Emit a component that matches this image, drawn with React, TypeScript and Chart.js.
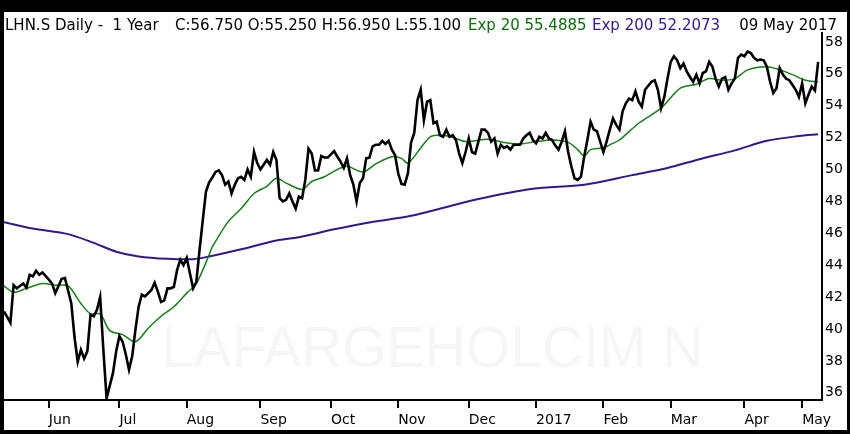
import React, { useEffect, useRef } from "react";
import { Chart, registerables } from "chart.js";

Chart.register(...registerables);

// Trading-day index (0 = 10 May 2016 ... 254 = 09 May 2017) and daily close
const closeDays = [
  0, 2, 3, 4, 6, 7, 8, 9, 10, 11, 12, 14, 15, 16, 17, 18, 19, 21, 22, 23, 24, 25, 26, 27, 28, 29, 30, 31, 32, 34,
  35, 36, 37, 38, 39, 40, 41, 42, 43, 44, 46, 47, 48, 49, 50, 51, 52, 53, 54, 55, 56, 57, 58, 59, 60, 61, 62, 63, 64, 65,
  66, 67, 68, 69, 70, 71, 72, 73, 74, 75, 76, 77, 78, 79, 80, 81, 82, 83, 84, 85, 86, 87, 88, 89, 90, 91, 92, 93, 94, 95,
  96, 97, 98, 99, 100, 101, 103, 104, 105, 106, 107, 108, 109, 110, 111, 112, 113, 114, 115, 116, 117, 118, 119, 120, 121, 122, 123, 124, 125, 126,
  127, 128, 129, 130, 131, 132, 133, 134, 135, 136, 137, 138, 139, 140, 141, 142, 143, 144, 145, 146, 147, 148, 149, 150, 151, 152, 153, 154, 155, 156,
  157, 158, 159, 161, 162, 163, 164, 165, 166, 167, 168, 169, 170, 171, 172, 173, 174, 175, 176, 177, 178, 179, 180, 181, 182, 183, 184, 185, 186, 187,
  188, 189, 190, 191, 192, 193, 194, 195, 196, 197, 198, 199, 200, 202, 203, 204, 205, 206, 207, 208, 209, 210, 211, 212, 213, 214, 215, 216, 217, 218,
  219, 220, 221, 222, 223, 224, 225, 226, 227, 228, 229, 230, 231, 232, 233, 234, 235, 236, 237, 238, 239, 240, 241, 242, 243, 244, 245, 246, 247, 248,
  249, 250, 251, 252, 253, 254,
];
const closeValues = [
  41.1, 40.4, 42.75, 42.55, 42.85, 42.6, 43.4, 43.3, 43.65, 43.4, 43.55, 43.1, 42.85, 42.25, 42.7, 43.15, 43.2, 41.6, 39.5, 37.95, 38.7, 38.15, 38.6, 40.9, 40.8, 41.2, 42.0, 38.7, 35.65, 37.25,
  38.6, 39.55, 39.2, 38.4, 37.45, 38.3, 39.95, 41.4, 42.15, 42.05, 42.45, 42.9, 42.35, 41.7, 41.8, 42.55, 42.55, 42.65, 43.7, 44.35, 44.0, 44.45, 43.5, 42.55, 42.95, 44.95, 46.8, 48.6, 49.2, 49.5,
  49.85, 49.95, 49.65, 49.05, 49.25, 48.5, 49.05, 49.45, 49.55, 49.35, 50.0, 49.55, 51.1, 50.4, 50.0, 50.3, 50.6, 50.3, 51.1, 50.6, 48.2, 48.0, 48.1, 48.5, 48.0, 47.55, 48.3, 48.2, 49.35, 51.3,
  51.0, 49.95, 49.95, 50.85, 50.75, 50.75, 51.15, 50.8, 50.5, 50.1, 50.7, 49.65, 49.05, 48.0, 49.15, 49.45, 50.7, 50.75, 51.45, 51.55, 51.55, 51.8, 51.6, 51.8, 51.25, 50.9, 49.75, 49.1, 49.05, 49.75,
  51.7, 52.3, 54.35, 55.0, 53.1, 54.25, 54.35, 52.9, 53.0, 52.15, 52.05, 52.5, 52.05, 52.15, 51.85, 51.0, 50.4, 51.1, 51.95, 51.1, 51.0, 51.75, 52.5, 52.5, 52.3, 51.75, 51.95, 51.0, 51.55, 51.35,
  51.45, 51.25, 51.55, 51.55, 51.95, 52.15, 52.3, 51.85, 51.65, 52.05, 51.95, 52.3, 51.95, 51.85, 51.5, 51.25, 51.75, 52.4, 51.1, 50.2, 49.45, 49.35, 49.55, 50.8, 51.85, 53.0, 52.5, 52.4, 51.75, 51.1,
  51.75, 52.5, 53.2, 52.8, 52.5, 53.65, 54.15, 54.45, 54.35, 54.9, 54.25, 53.95, 55.0, 55.5, 55.6, 55.0, 53.85, 54.55, 55.7, 56.75, 57.1, 56.85, 56.35, 56.65, 56.15, 55.8, 55.5, 55.95, 55.4, 56.05,
  56.15, 56.75, 56.45, 55.7, 55.2, 55.7, 55.8, 55.0, 55.4, 55.7, 57.0, 57.2, 57.1, 57.4, 57.3, 57.0, 56.85, 56.9, 56.85, 56.45, 55.5, 54.8, 55.1, 56.35, 55.95, 55.7, 55.6, 55.3, 55.0, 54.55,
  55.4, 54.15, 54.7, 55.2, 54.95, 56.75,
];

// Exponential moving average, 20 days
const ema20Days = [
  0, 3, 7, 12, 16, 20, 24, 27, 30, 33, 37, 41, 45, 49, 53, 57, 60, 64, 65, 70, 74, 78, 82, 85, 88, 93, 96, 100, 104, 107,
  112, 116, 121, 124, 126, 130, 133, 137, 141, 144, 151, 156, 161, 166, 171, 176, 179, 181, 183, 187, 189, 192, 198, 205, 211, 216, 220, 224, 228, 232,
  238, 242, 246, 250, 254,
];
const ema20Values = [
  42.7, 42.3, 42.55, 42.85, 42.75, 42.7, 41.6, 40.95, 40.95, 39.9, 39.65, 39.2, 40.05, 40.8, 41.4, 42.25, 42.85, 44.65, 45.15, 46.75, 47.55, 48.5, 48.95, 49.45, 49.15, 48.75, 49.25, 49.55, 50.0, 50.2,
  49.85, 50.35, 50.8, 50.7, 50.4, 51.35, 52.05, 52.15, 51.95, 51.75, 51.9, 51.7, 51.6, 51.75, 51.85, 51.7, 51.25, 50.85, 51.25, 51.35, 51.55, 51.85, 52.9, 53.85, 55.1, 55.35, 55.7, 55.6, 55.7, 56.25,
  56.45, 56.25, 55.95, 55.6, 55.49,
];

// Exponential moving average, 200 days
const ema200Days = [0, 9, 20, 28, 35, 42, 51, 59, 64, 74, 85, 92, 103, 113, 127, 148, 165, 181, 196, 207, 217, 228, 238, 248, 254];
const ema200Values = [
  46.7, 46.3, 45.95, 45.4, 44.85, 44.55, 44.4, 44.38, 44.55, 45.0, 45.55, 45.75, 46.25, 46.65, 47.1, 48.15, 48.8, 49.05, 49.65, 50.1, 50.65, 51.2, 51.8,
  52.1, 52.21,
];

const monthTickDays = [14, 36, 57, 80, 102, 123, 145, 166, 187, 208, 231, 249];
const monthLabels = ["Jun", "Jul", "Aug", "Sep", "Oct", "Nov", "Dec", "2017", "Feb", "Mar", "Apr", "May"];
const priceTicks = [36, 38, 40, 42, 44, 46, 48, 50, 52, 54, 56, 58];

const headerTitle = "LHN.S Daily -  1 Year";
const headerOhlc = "C:56.750 O:55.250 H:56.950 L:55.100";
const headerEma20 = "Exp 20 55.4885";
const headerEma200 = "Exp 200 52.2073";
const headerDate = "09 May 2017";
const watermark = "LAFARGEHOLCIM N";

const GREEN = "#1b7a1b";
const GREEN_TEXT = "#0f6a0f";
const PURPLE = "#33188a";
const FONT = '"DejaVu Sans", Verdana, sans-serif';

const framePlugin = {
  id: "frame",
  beforeDraw(chart: any) {
    const ctx = chart.ctx;
    const w = chart.width;
    const h = chart.height;
    ctx.save();
    ctx.fillStyle = "#000";
    ctx.fillRect(0, 0, w, h);
    ctx.fillStyle = "#fff";
    ctx.fillRect(4, 12, w - 7, h - 16);
    ctx.restore();
  },
  beforeDatasetsDraw(chart: any) {
    const ctx = chart.ctx;
    const a = chart.chartArea;
    ctx.save();
    ctx.font = `57px "Liberation Sans", Arial, sans-serif`;
    ctx.fillStyle = "#f6f6f6";
    ctx.textAlign = "right";
    ctx.textBaseline = "alphabetic";
    ctx.fillText(watermark, a.left + (a.right - a.left) * 0.855, a.bottom - 33);
    ctx.restore();
  },
  afterDraw(chart: any) {
    const ctx = chart.ctx;
    ctx.save();
    ctx.font = `15px ${FONT}`;
    ctx.textBaseline = "alphabetic";
    ctx.textAlign = "left";
    const y = 30;
    ctx.fillStyle = "#000";
    ctx.fillText(headerTitle, 5, y);
    ctx.fillText(headerOhlc, 175, y);
    ctx.fillStyle = GREEN_TEXT;
    ctx.fillText(headerEma20, 468, y);
    ctx.fillStyle = PURPLE;
    ctx.fillText(headerEma200, 592, y);
    ctx.fillStyle = "#000";
    ctx.textAlign = "right";
    ctx.fillText(headerDate, 837, y);
    ctx.restore();
  },
};

export default function App() {
  const canvasRef = useRef<HTMLCanvasElement | null>(null);

  useEffect(() => {
    document.body.style.margin = "0";
    const canvas = canvasRef.current;
    if (!canvas) return;
    const chart = new Chart(canvas, {
      type: "line",
      data: {
        datasets: [
          {
            label: "Close",
            data: closeDays.map((d, i) => ({ x: d, y: closeValues[i] })),
            borderColor: "#000",
            borderWidth: 2.6,
            pointRadius: 0,
            tension: 0,
            fill: false,
          },
          {
            label: "Exp 20",
            data: ema20Days.map((d, i) => ({ x: d, y: ema20Values[i] })),
            borderColor: GREEN,
            borderWidth: 1.5,
            pointRadius: 0,
            tension: 0.3,
            fill: false,
          },
          {
            label: "Exp 200",
            data: ema200Days.map((d, i) => ({ x: d, y: ema200Values[i] })),
            borderColor: PURPLE,
            borderWidth: 2,
            pointRadius: 0,
            tension: 0.3,
            fill: false,
          },
        ],
      },
      options: {
        animation: false,
        responsive: false,
        devicePixelRatio: 1,
        layout: { padding: { top: 33, left: 4, right: 0, bottom: 0 } },
        plugins: { legend: { display: false }, tooltip: { enabled: false } },
        scales: {
          x: {
            type: "linear",
            min: 0,
            max: 255.2,
            afterBuildTicks: (s: any) => {
              s.ticks = monthTickDays.map((v) => ({ value: v }));
            },
            afterFit: (s: any) => {
              s.height = 34;
            },
            grid: {
              display: true,
              drawOnChartArea: false,
              drawTicks: true,
              tickLength: 8,
              color: "#000",
              lineWidth: 2,
            },
            border: { display: true, color: "#000", width: 2 },
            ticks: {
              autoSkip: false,
              maxRotation: 0,
              minRotation: 0,
              align: "start",
              padding: 4,
              color: "#000",
              font: { family: FONT, size: 14 },
              callback: (_v: any, i: number) => monthLabels[i],
            },
          },
          y: {
            type: "linear",
            position: "right",
            min: 35.55,
            max: 58.56,
            afterBuildTicks: (s: any) => {
              s.ticks = priceTicks.map((v) => ({ value: v }));
            },
            afterFit: (s: any) => {
              s.width = 28;
            },
            grid: { display: false, drawTicks: false },
            border: { display: true, color: "#000", width: 2 },
            ticks: {
              padding: 3,
              color: "#000",
              font: { family: FONT, size: 14 },
              callback: (v: any) => String(v),
            },
          },
        },
      },
      plugins: [framePlugin],
    } as any);
    return () => chart.destroy();
  }, []);

  return (
    <div style={{ position: "absolute", left: 0, top: 0, width: 850, height: 434 }}>
      <canvas ref={canvasRef} width={850} height={434} style={{ width: 850, height: 434, display: "block" }} />
    </div>
  );
}
